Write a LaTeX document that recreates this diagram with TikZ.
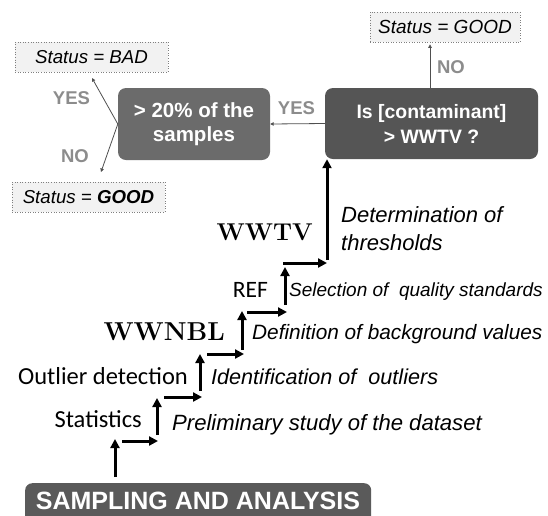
\documentclass[tikz,border=0pt]{standalone}
\usepackage{fontspec}
\newfontfamily\arial{Liberation Sans}
\newfontfamily\calib{Carlito}
\usetikzlibrary{arrows.meta}
\definecolor{boxdark}{HTML}{555555}
\definecolor{boxmid}{HTML}{6B6B6B}
\definecolor{sampcol}{HTML}{5A5A5A}
\definecolor{lblgray}{HTML}{8C8C8C}
\definecolor{linegray}{HTML}{4F4F4F}
\definecolor{statusfill}{HTML}{F2F2F2}
\definecolor{statusdraw}{HTML}{7F7F7F}
\begin{document}
\begin{tikzpicture}[x=1pt,y=-1pt,
  statusbox/.style={draw=statusdraw, dotted, line width=0.6pt, fill=statusfill,
    minimum width=153pt, minimum height=30pt, inner sep=0pt,
    font=\arial\itshape\fontsize{18.7}{22}\selectfont, text height=13.4pt, text depth=0pt},
  decbox/.style={fill=#1, rounded corners=8pt, text=white, align=center, inner sep=0pt},
  lbl/.style={text=lblgray, inner sep=0pt, font=\arial\bfseries\fontsize{18.5}{22}\selectfont,
    text height=13.2pt, text depth=0pt},
  thinarrow/.style={draw=linegray, line width=0.8pt, -{Triangle[width=3.5pt,length=3.5pt]}},
  stair/.style={line width=3pt, -{Triangle[width=9pt,length=9pt]}},
  calname/.style={font=\calib\fontsize{24.5}{30}\selectfont, text height=15.8pt, text depth=0pt, inner sep=0pt},
  serifname/.style={inner sep=0pt, text depth=0pt},
  desc/.style={inner sep=0pt, text depth=0pt, anchor=west}
]
\useasboundingbox (0,0) rectangle (548,515);

% decision boxes
\node[decbox=boxdark, minimum width=213pt, minimum height=71pt,
  font=\arial\bfseries\fontsize{19.4}{25}\selectfont] (q) at (431.5,123.5) {Is [contaminant]\\> WWTV ?};
\node[decbox=boxmid, minimum width=152pt, minimum height=72pt,
  font=\arial\bfseries\fontsize{20.5}{23.5}\selectfont] (p) at (194,124) {> 20\% of the\\samples};

% status boxes
\node[statusbox] (bad) at (91.5,57) {Status = BAD};
\node[statusbox] (goodl) at (88.5,197) {Status = \textbf{GOOD}};
\node[statusbox, minimum width=150pt, font=\arial\itshape\fontsize{19}{22}\selectfont] (goodt) at (445,27) {Status = GOOD};

% thin connectors
\coordinate (vbad) at (92,78);
\coordinate (vgood) at (101,172);
\draw[thinarrow] (q.west) -- (p.east);
\draw[thinarrow, shorten >=2pt] ([xshift=-1.5pt]q.north) -- ([xshift=-1.5pt]q.north |- goodt.south);
\draw[thinarrow] (p.west) -- (vbad);
\draw[thinarrow] (p.west) -- (vgood);

% labels
\node[lbl] (yes1) at (71.5,98) {YES};
\node[lbl] (no1) at (75,156) {NO};
\node[lbl] (yes2) at (296.5,108) {YES};
\node[lbl] (no2) at (451,67) {NO};

% sampling box
\node[fill=sampcol, rounded corners=7pt, anchor=north west, minimum width=346pt, minimum height=50pt,
  inner sep=0pt] (samp) at (25,483) {};
\node[inner sep=0pt, text=white, font=\arial\bfseries\fontsize{25}{30}\selectfont,
  text height=17.9pt, text depth=0pt, anchor=base] (samptxt) at (198,509.5) {SAMPLING AND ANALYSIS};

% staircase
\coordinate (s1a) at (115,477); \coordinate (s1b) at (115,439);
\coordinate (s2a) at (122,441); \coordinate (s2b) at (158,441);
\coordinate (s3a) at (157,435); \coordinate (s3b) at (157,398);
\coordinate (s4a) at (164,397); \coordinate (s4b) at (202,397);
\coordinate (s5a) at (200,391); \coordinate (s5b) at (200,354);
\coordinate (s6a) at (207,354); \coordinate (s6b) at (244,354);
\coordinate (s7a) at (242,350); \coordinate (s7b) at (242,311);
\coordinate (s8a) at (247,312); \coordinate (s8b) at (287,312);
\coordinate (s9a) at (285,305); \coordinate (s9b) at (285,267);
\coordinate (s10a) at (283,263); \coordinate (s10b) at (327,263);
\coordinate (s11a) at (327,260);
\draw[stair] (s1a) -- (s1b);
\draw[stair] (s2a) -- (s2b);
\draw[stair] (s3a) -- (s3b);
\draw[stair] (s4a) -- (s4b);
\draw[stair] (s5a) -- (s5b);
\draw[stair] (s6a) -- (s6b);
\draw[stair] (s7a) -- (s7b);
\draw[stair] (s8a) -- (s8b);
\draw[stair] (s9a) -- (s9b);
\draw[stair] (s10a) -- (s10b);
\draw[stair] (s11a) -- (s11a |- q.south);

% step names
\node[calname, anchor=east] (stat) at (142,420) {Statistics};
\node[calname, anchor=east] (outl) at (188,377) {Outlier detection};
\node[calname, anchor=east, font=\calib\fontsize{23.5}{30}\selectfont, text height=15.1pt] (ref) at (268,290) {REF};
\node[serifname, anchor=east, font=\bfseries\fontsize{25.9}{30}\selectfont, text height=17.8pt] (wwnbl) at (225,332) {WWNBL};
\node[serifname, anchor=east, font=\bfseries\fontsize{24.3}{30}\selectfont, text height=16.7pt] (wwtv) at (313,232) {WWTV};

% descriptions
\node[desc, font=\arial\itshape\fontsize{22}{28}\selectfont, text height=15.8pt] (det1) at (341,215) {Determination of};
\node[desc, font=\arial\itshape\fontsize{22}{28}\selectfont, text height=15.8pt] (det2) at (341,243) {thresholds};
\node[desc, font=\arial\itshape\fontsize{19}{24}\selectfont, text height=13.6pt] (sel) at (289,290) {Selection of~ quality standards};
\node[desc, font=\arial\itshape\fontsize{20.8}{26}\selectfont, text height=14.9pt] (def) at (252,332) {Definition of background values};
\node[desc, font=\arial\itshape\fontsize{21.6}{26}\selectfont, text height=15.5pt] (ide) at (211,377) {Identification of~ outliers};
\node[desc, font=\arial\itshape\fontsize{22.1}{26}\selectfont, text height=15.8pt] (pre) at (172,423) {Preliminary study of the dataset};
\end{tikzpicture}
\end{document}
